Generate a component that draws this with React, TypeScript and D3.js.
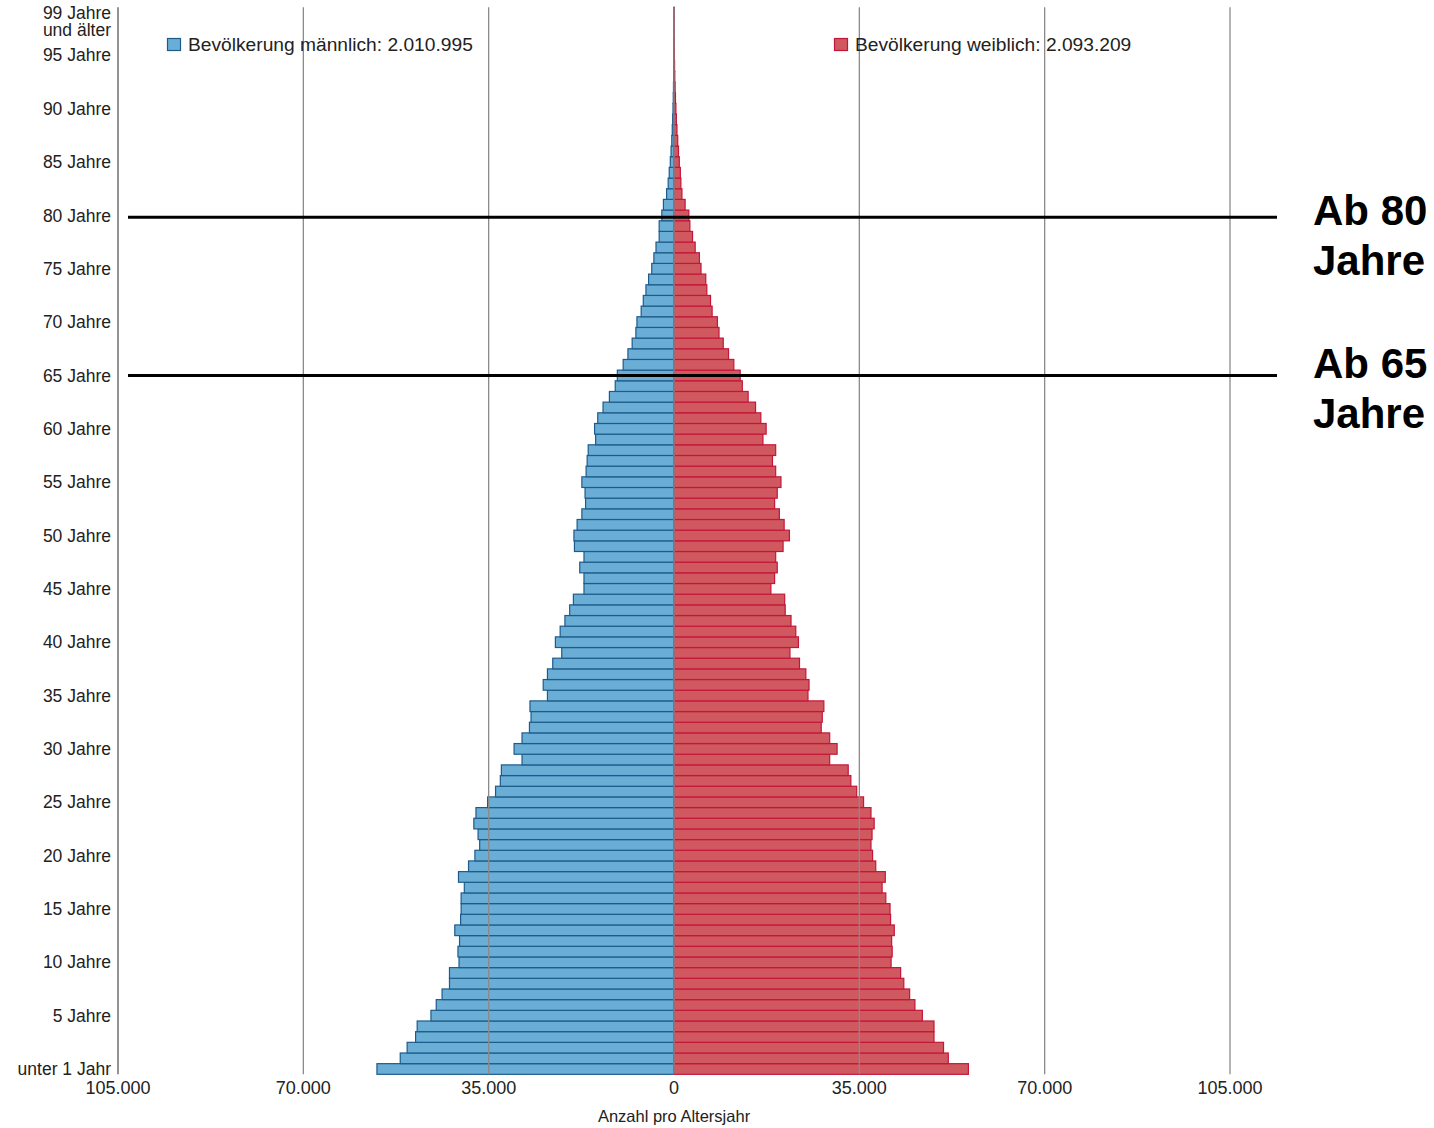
import React from "react";
import * as d3 from "d3";

// ---- Data -------------------------------------------------------------
const ages: number[] = d3.range(0, 100);

const male: number[] = [
  56100, 51700, 50400, 48800, 48500, 45900, 44900, 43800, 42400, 42400,
  40600, 40800, 40500, 41400, 40300, 40200, 40200, 39600, 40700, 38800,
  37600, 36700, 37000, 37800, 37400, 35200, 33700, 32800, 32600, 28700,
  30200, 28700, 27300, 27000, 27200, 23900, 24700, 23900, 22900, 21200,
  22400, 21500, 20600, 19700, 19000, 17000, 17000, 17800, 17000, 18800,
  18900, 18300, 17400, 16700, 16800, 17400, 16600, 16400, 16200, 14800,
  15000, 14400, 13400, 12200, 11100, 10700, 9600, 8700, 7900, 7200,
  7000, 6200, 5800, 5300, 4800, 4200, 3800, 3400, 2800, 2800,
  2300, 2000, 1400, 1100, 900, 700, 550, 420, 330, 250,
  190, 140, 100, 70, 50, 35, 25, 15, 10, 10,
];

const female: number[] = [
  55600, 51800, 50900, 49100, 49100, 46900, 45500, 44500, 43400, 42800,
  41000, 41200, 41100, 41600, 40900, 40800, 40000, 39300, 39900, 38100,
  37500, 37200, 37400, 37800, 37200, 35800, 34500, 33400, 32900, 29400,
  30800, 29400, 27800, 28000, 28300, 25300, 25500, 24900, 23700, 21900,
  23500, 23000, 22100, 21000, 20900, 18300, 19000, 19500, 19200, 20600,
  21800, 20800, 19900, 19000, 19500, 20200, 19200, 18600, 19200, 16800,
  17400, 16400, 15400, 14000, 12900, 12500, 11300, 10300, 9300, 8500,
  8200, 7200, 6900, 6200, 6000, 5100, 4800, 4000, 3500, 3000,
  2800, 2100, 1500, 1300, 1200, 1000, 850, 700, 560, 450,
  360, 280, 210, 150, 110, 80, 55, 35, 25, 30,
];

const totalMale = 2010995;
const totalFemale = 2093209;
const legendMale = "Bevölkerung männlich: ";
const legendFemale = "Bevölkerung weiblich: ";

const xTicks: number[] = [-105000, -70000, -35000, 0, 35000, 70000, 105000];
const yTickAges: number[] = [0, 5, 10, 15, 20, 25, 30, 35, 40, 45, 50, 55, 60, 65, 70, 75, 80, 85, 90, 95, 99];
const xTitle = "Anzahl pro Altersjahr";

const markerAges: number[] = [80, 65];
const markerLabels: string[][] = [["Ab 80", "Jahre"], ["Ab 65", "Jahre"]];

// ---- Formatting -------------------------------------------------------
const de = d3.formatLocale({ decimal: ",", thousands: ".", grouping: [3], currency: ["", " €"] });
const fmt = de.format(",d");

const FONT = "'Liberation Sans', Arial, Helvetica, sans-serif";

export default function App() {
  const W = 1434;
  const H = 1128;

  const x = d3.scaleLinear().domain([-105000, 105000]).range([118, 1230]);
  const y = d3
    .scaleBand<number>()
    .domain(ages)
    .range([1074.33, 7.33])
    .padding(0);
  const bw = y.bandwidth();
  const yTop = y.range()[1];
  const yBottom = y.range()[0];

  const maleFill = "#6aaed6";
  const maleStroke = "#1d5b8c";
  const femaleFill = "#d0585f";
  const femaleStroke = "#c4163a";

  const ageLabel = (a: number) => (a === 0 ? "unter 1 Jahr" : `${a} Jahre`);
  const lineOffsets = [1.8, 0];
  const textOffsets = [8, 3];

  return (
    <svg
      width={W}
      height={H}
      style={{ position: "absolute", left: 0, top: 0, background: "#fff" }}
      fontFamily={FONT}
    >
      {/* bars */}
      <g>
        {ages.map((a, i) => (
          <rect
            key={"m" + a}
            x={x(-male[i])}
            y={y(a)!}
            width={x(0) - x(-male[i])}
            height={bw}
            fill={maleFill}
            stroke={maleStroke}
            strokeWidth={1.2}
          />
        ))}
        {ages.map((a, i) => (
          <rect
            key={"f" + a}
            x={x(0)}
            y={y(a)!}
            width={x(female[i]) - x(0)}
            height={bw}
            fill={femaleFill}
            stroke={femaleStroke}
            strokeWidth={1.2}
          />
        ))}
      </g>

      {/* gridlines */}
      <g>
        {xTicks.slice(1).map((t) => (
          <line
            key={"g" + t}
            x1={x(t)}
            x2={x(t)}
            y1={yTop}
            y2={yBottom}
            stroke="#8a8a8a"
            strokeWidth={1.3}
          />
        ))}
        <line x1={x(-105000)} x2={x(-105000)} y1={yTop} y2={yBottom} stroke="#6f6f6f" strokeWidth={1.5} />
      </g>

      {/* y tick labels */}
      <g fontSize={17.5} fill="#222" textAnchor="end">
        {yTickAges.map((a) => {
          const cy = y(a)! + bw / 2;
          if (a === 99) {
            return (
              <text key={"y" + a} x={111} y={cy} dy="0.35em">
                <tspan x={111}>{`${a} Jahre`}</tspan>
                <tspan x={111} dy={17}>und älter</tspan>
              </text>
            );
          }
          return (
            <text key={"y" + a} x={111} y={cy} dy="0.35em">
              {ageLabel(a)}
            </text>
          );
        })}
      </g>

      {/* x tick labels */}
      <g fontSize={18} fill="#222" textAnchor="middle">
        {xTicks.map((t) => (
          <text key={"x" + t} x={x(t)} y={1094}>
            {fmt(Math.abs(t))}
          </text>
        ))}
        <text x={x(0)} y={1122} fontSize={16.5}>
          {xTitle}
        </text>
      </g>

      {/* legend */}
      <g fontSize={19.2} fill="#222">
        <rect x={167.5} y={38.5} width={13} height={12} fill={maleFill} stroke={maleStroke} strokeWidth={1.2} />
        <text x={188} y={51}>{legendMale + fmt(totalMale)}</text>
        <rect x={834.5} y={38.5} width={13} height={12} fill={femaleFill} stroke={femaleStroke} strokeWidth={1.2} />
        <text x={855} y={51}>{legendFemale + fmt(totalFemale)}</text>
      </g>

      {/* markers */}
      <g>
        {markerAges.map((a, i) => {
          const ly = y(a)! + bw / 2 + lineOffsets[i];
          return (
            <g key={"mk" + a}>
              <line x1={128} x2={1277} y1={ly} y2={ly} stroke="#000" strokeWidth={3} />
              <text x={1313} y={ly + textOffsets[i]} fontSize={42} fontWeight="bold" fill="#000">
                <tspan x={1313}>{markerLabels[i][0]}</tspan>
                <tspan x={1313} dy={50}>{markerLabels[i][1]}</tspan>
              </text>
            </g>
          );
        })}
      </g>
    </svg>
  );
}
